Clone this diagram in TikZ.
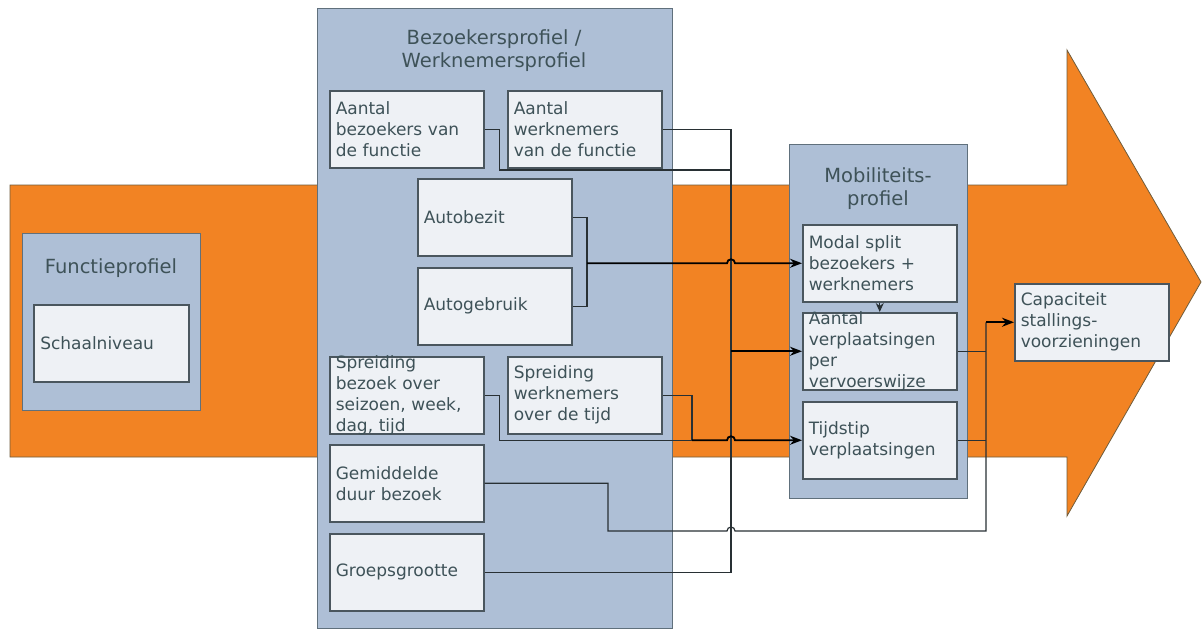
\documentclass[tikz,border=0pt]{standalone}
\usepackage{fontspec}
\setmainfont{DejaVu Sans}
\usetikzlibrary{arrows.meta}
\definecolor{arroworange}{RGB}{242,131,35}
\definecolor{arrowedge}{RGB}{110,92,60}
\definecolor{profblue}{RGB}{174,191,214}
\definecolor{profedge}{RGB}{96,112,124}
\definecolor{itemfill}{RGB}{238,241,245}
\definecolor{itemedge}{RGB}{74,86,94}
\definecolor{txt}{RGB}{62,82,88}
\definecolor{wireline}{RGB}{40,48,52}
\tikzset{
  profbox/.style={draw=profedge,fill=profblue,line width=1.3pt,anchor=north west,inner sep=0pt},
  proftitle/.style={text=txt,align=center,font=\fontsize{19.5}{23}\selectfont},
  itembox/.style={draw=itemedge,fill=itemfill,line width=1.5pt,anchor=north west,
    text width=142pt,inner xsep=6pt,inner ysep=-1.5pt,minimum height=77pt,align=left,
    text=txt,font=\fontsize{17}{21}\selectfont},
  wire/.style={draw=wireline,line width=1.2pt},
  feed/.style={draw=black,line width=1.8pt,-{Stealth[length=12pt,width=9pt]}},
}
\begin{document}
\begin{tikzpicture}[x=1pt,y=-1pt]
 \useasboundingbox (0,0) rectangle (1202,630);
 % big arrow
 \draw[fill=arroworange,draw=arrowedge,line width=0.8pt]
   (10,185) -- (1067,185) -- (1067,50) -- (1201,282) -- (1067,516) -- (1067,457) -- (10,457) -- cycle;

 % profiles
 \node[profbox,minimum width=178,minimum height=177] (fprof) at (22,233) {};
 \node[proftitle] (ftitle) at (111,268) {Functieprofiel};
 \node[itembox,minimum width=155] (schaal) at (33,304) {Schaalniveau};

 \node[profbox,minimum width=355,minimum height=620] (bprof) at (317,8) {};
 \node[proftitle] (btitle) at (494,51) {Bezoekersprofiel /\\Werknemersprofiel};

 \node[profbox,minimum width=178,minimum height=354] (mprof) at (789,144) {};
 \node[proftitle] (mtitle) at (878,189) {Mobiliteits-\\profiel};

 % items
 \node[itembox] (abez) at (329,90) {Aantal\\bezoekers van\\de functie};
 \node[itembox] (awerk) at (507,90) {Aantal\\werknemers\\van de functie};
 \node[itembox] (autob) at (417,178) {Autobezit};
 \node[itembox] (autog) at (417,267) {Autogebruik};
 \node[itembox] (sbez) at (329,356) {Spreiding\\bezoek over\\seizoen, week,\\dag, tijd};
 \node[itembox] (swerk) at (507,356) {Spreiding\\werknemers\\over de tijd};
 \node[itembox] (gem) at (329,444) {Gemiddelde\\duur bezoek};
 \node[itembox] (groep) at (329,533) {Groepsgrootte};

 \node[itembox] (modal) at (802,224) {Modal split\\bezoekers +\\werknemers};
 \node[itembox] (verpl) at (802,312) {Aantal\\verplaatsingen\\per\\vervoerswijze};
 \node[itembox] (tijd) at (802,401) {Tijdstip\\verplaatsingen};
 \node[itembox] (cap) at (1014,283) {Capaciteit\\stallings-\\voorzieningen};

 % routing points
 \coordinate (bus) at (731,0);
 \coordinate (sink) at (986,0);
 \coordinate (brk) at (587,0);
 \coordinate (j1) at (731,170);
 \coordinate (j2) at (692,0);
 \coordinate (j3) at (608,531);

 % aantallen -> verplaatsingen
 \draw[wire] (abez.east) -- ++(15,0) |- (j1);
 \draw[wire] (awerk.east) -| (bus |- groep.east) -- (groep.east);
 \draw[feed] (bus |- verpl.west) -- (verpl.west);

 % auto -> modal split
 \draw[wire] (autob.east) -| (brk |- modal.west) |- (autog.east);
 \draw[feed] (brk |- modal.west) -- ([xshift=-4pt]bus |- modal.west)
   arc[start angle=180,end angle=360,radius=4] -- (modal.west);
 \draw[wire,-{Stealth[length=9pt,width=8pt]}] (modal.south) -- (verpl.north);

 % spreiding -> tijdstip
 \draw[wire] (swerk.east) -| (j2 |- tijd.west);
 \draw[wire] (sbez.east) -- ++(15,0) |- (j2 |- tijd.west);
 \draw[feed] (j2 |- tijd.west) -- ([xshift=-4pt]bus |- tijd.west)
   arc[start angle=180,end angle=360,radius=4] -- (tijd.west);

 % -> capaciteit
 \draw[wire] (gem.east) -| (j3) -- ([xshift=-4pt]bus |- j3)
   arc[start angle=180,end angle=360,radius=4] -- (sink |- j3) -- (sink |- cap.west);
 \draw[wire] (verpl.east) -- (sink |- verpl.east);
 \draw[wire] (tijd.east) -- (sink |- tijd.east);
 \draw[feed] (sink |- cap.west) -- (cap.west);
\end{tikzpicture}
\end{document}
